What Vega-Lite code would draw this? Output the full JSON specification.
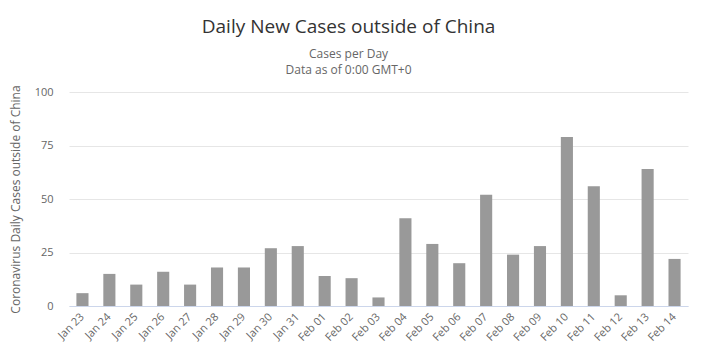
{
  "$schema": "https://vega.github.io/schema/vega-lite/v6.json",
  "autosize": "none",
  "width": 619,
  "height": 214,
  "padding": {"left": 69, "top": 92, "right": 25, "bottom": 54},
  "background": "white",
  "config": {"view": {"stroke": null}, "font": "Open Sans"},
  "title": {
    "text": "Daily New Cases outside of China",
    "subtitle": ["Cases per Day", "Data as of 0:00 GMT+0"],
    "anchor": "middle",
    "frame": "bounds",
    "font": "Open Sans",
    "fontSize": 19,
    "fontWeight": "normal",
    "color": "#333333",
    "subtitleFont": "Open Sans",
    "subtitleFontSize": 12,
    "subtitleColor": "#666666",
    "subtitleLineHeight": 16,
    "subtitlePadding": 12,
    "offset": 9
  },
  "data": {
    "values": [
      {"date": "Jan 23", "cases": 6},
      {"date": "Jan 24", "cases": 15},
      {"date": "Jan 25", "cases": 10},
      {"date": "Jan 26", "cases": 16},
      {"date": "Jan 27", "cases": 10},
      {"date": "Jan 28", "cases": 18},
      {"date": "Jan 29", "cases": 18},
      {"date": "Jan 30", "cases": 27},
      {"date": "Jan 31", "cases": 28},
      {"date": "Feb 01", "cases": 14},
      {"date": "Feb 02", "cases": 13},
      {"date": "Feb 03", "cases": 4},
      {"date": "Feb 04", "cases": 41},
      {"date": "Feb 05", "cases": 29},
      {"date": "Feb 06", "cases": 20},
      {"date": "Feb 07", "cases": 52},
      {"date": "Feb 08", "cases": 24},
      {"date": "Feb 09", "cases": 28},
      {"date": "Feb 10", "cases": 79},
      {"date": "Feb 11", "cases": 56},
      {"date": "Feb 12", "cases": 5},
      {"date": "Feb 13", "cases": 64},
      {"date": "Feb 14", "cases": 22}
    ]
  },
  "mark": {"type": "bar", "color": "#999999"},
  "encoding": {
    "x": {
      "field": "date",
      "type": "nominal",
      "sort": null,
      "scale": {"paddingInner": 0.55, "paddingOuter": 0.275},
      "axis": {
        "title": null,
        "labelAngle": -45,
        "labelAlign": "right",
        "labelBaseline": "middle",
        "labelFontSize": 11,
        "labelColor": "#666666",
        "labelPadding": 9,
        "ticks": false,
        "domainColor": "#ccd6eb",
        "grid": false
      }
    },
    "y": {
      "field": "cases",
      "type": "quantitative",
      "scale": {"domain": [0, 100], "nice": false},
      "axis": {
        "values": [0, 25, 50, 75, 100],
        "title": "Coronavirus Daily Cases outside of China",
        "titleFontSize": 12,
        "titleFontWeight": "normal",
        "titleColor": "#666666",
        "titlePadding": 12,
        "labelFontSize": 11,
        "labelColor": "#666666",
        "labelPadding": 16,
        "ticks": false,
        "domain": false,
        "gridColor": "#e6e6e6"
      }
    }
  }
}
